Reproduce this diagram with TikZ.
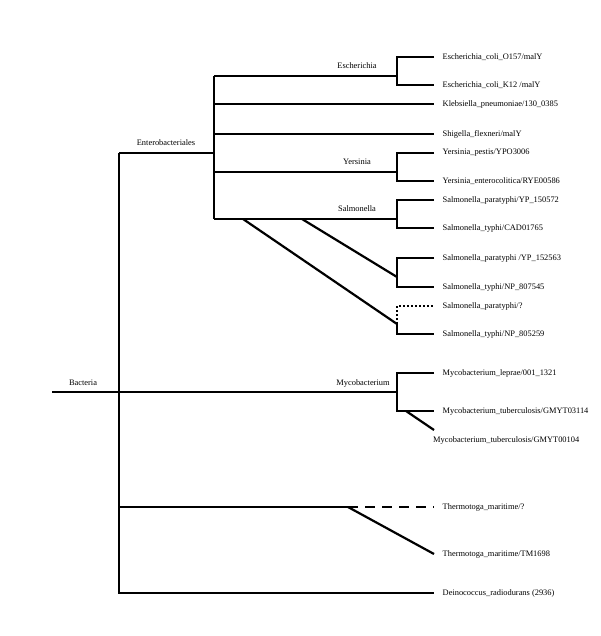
\documentclass[tikz,border=0pt]{standalone}
\usepackage{fontspec}
\setmainfont{Liberation Serif}
\begin{document}
\begin{tikzpicture}[x=1pt,y=-1pt,
  br/.style={line width=2.2pt,line join=miter},
  leaf/.style={anchor=west,inner xsep=8.5pt,inner ysep=0pt,font=\fontsize{8.4}{10}\selectfont},
  clade/.style={inner sep=0pt,font=\fontsize{8.4}{10}\selectfont},
  dotline/.style={br,dash pattern=on 2pt off 2pt},
  dashline/.style={br,dash pattern=on 10pt off 7pt}]
\useasboundingbox (0,0) rectangle (600,636);
% internal coordinates
\coordinate (root) at (52,392);
\coordinate (bac) at (119,392);
\coordinate (ent) at (214,153);
\coordinate (esc) at (397,76);
\coordinate (yer) at (397,172);
\coordinate (sal) at (397,219);
\coordinate (s2) at (397,277);
\coordinate (s2src) at (302,219);
\coordinate (s3) at (397,324);
\coordinate (s3src) at (243,219);
\coordinate (myc) at (397,392);
\coordinate (mycb) at (397,411);
\coordinate (mycd) at (406,411);
\coordinate (g4end) at (434,430);
\coordinate (the) at (348,507);
% leaves
\node[leaf] (l1) at (434,57) {Escherichia\_coli\_O157/malY};
\node[leaf] (l2) at (434,85) {Escherichia\_coli\_K12 /malY};
\node[leaf] (l3) at (434,104) {Klebsiella\_pneumoniae/130\_0385};
\node[leaf] (l4) at (434,134) {Shigella\_flexneri/malY};
\node[leaf] (l5) at (434,153) {Yersinia\_pestis/YPO3006};
\node[leaf] (l6) at (434,181) {Yersinia\_enterocolitica/RYE00586};
\node[leaf] (l7) at (434,200) {Salmonella\_paratyphi/YP\_150572};
\node[leaf] (l8) at (434,228) {Salmonella\_typhi/CAD01765};
\node[leaf] (l9) at (434,258) {Salmonella\_paratyphi /YP\_152563};
\node[leaf] (l10) at (434,287) {Salmonella\_typhi/NP\_807545};
\node[leaf] (l11) at (434,306) {Salmonella\_paratyphi/?};
\node[leaf] (l12) at (434,334) {Salmonella\_typhi/NP\_805259};
\node[leaf] (l13) at (434,373) {Mycobacterium\_leprae/001\_1321};
\node[leaf] (l14) at (434,411) {Mycobacterium\_tuberculosis/GMYT03114};
\node[leaf,inner xsep=0pt] (l15) at (433,440) {Mycobacterium\_tuberculosis/GMYT00104};
\node[leaf] (l16) at (434,507) {Thermotoga\_maritime/?};
\node[leaf] (l17) at (434,554) {Thermotoga\_maritime/TM1698};
\node[leaf] (l18) at (434,593) {Deinococcus\_radiodurans (2936)};
% clade labels
\node[clade] (tEsc) at (357,66) {Escherichia};
\node[clade] (tYer) at (357,162) {Yersinia};
\node[clade] (tSal) at (357,209) {Salmonella};
\node[clade] (tEnt) at (166,143) {Enterobacteriales};
\node[clade] (tBac) at (83,383) {Bacteria};
\node[clade] (tMyc) at (363,383) {Mycobacterium};
% branches
\draw[br] (root) -- (myc);
\draw[br] (ent -| bac) -- (bac |- l18.west) -- (l18.west);
\draw[br] (ent -| bac) -- (ent);
\draw[br] (ent |- esc) -- (ent |- sal);
\draw[br] (ent |- esc) -- (esc);
\draw[br] (l1.west) -| (esc) |- (l2.west);
\draw[br] (ent |- l3.west) -- (l3.west);
\draw[br] (ent |- l4.west) -- (l4.west);
\draw[br] (ent |- yer) -- (yer);
\draw[br] (l5.west) -| (yer) |- (l6.west);
\draw[br] (ent |- sal) -- (sal);
\draw[br] (l7.west) -| (sal) |- (l8.west);
\draw[br] (s2src) -- (s2);
\draw[br] (l9.west) -| (s2) |- (l10.west);
\draw[br] (s3src) -- (s3);
\draw[br] (s3) |- (l12.west);
\draw[dotline] (s3) |- (l11.west);
\draw[br] (l13.west) -| (myc) |- (l14.west);
\draw[br] (mycd) -- (g4end);
\draw[br] (bac |- the) -- (the);
\draw[dashline] (the) -- (l16.west);
\draw[br] (the) -- (l17.west);
\end{tikzpicture}
\end{document}
